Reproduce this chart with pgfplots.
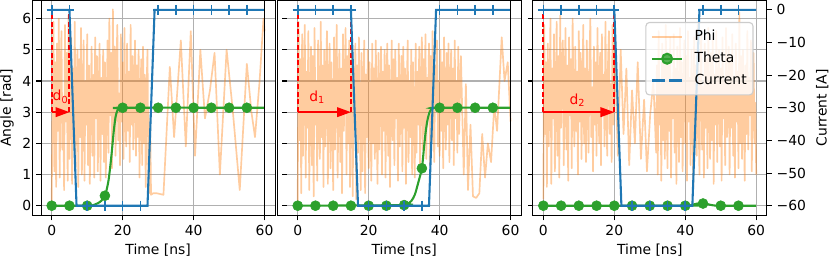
\documentclass[border=0pt]{standalone}
\usepackage{fontspec}
\setmainfont{DejaVu Sans}
\usepackage{pgfplots}
\usepackage{pgfplotstable}
\pgfplotsset{compat=1.18}
\usetikzlibrary{arrows.meta}
\definecolor{cPhi}{HTML}{FF7F0E}
\definecolor{cTheta}{HTML}{2CA02C}
\definecolor{cCur}{HTML}{1F77B4}
\definecolor{cGrid}{HTML}{B0B0B0}
\definecolor{cLeg}{HTML}{CCCCCC}
\tikzset{
  fnt/.style={font=\fontsize{10}{12}\selectfont},
  phistyle/.style={cPhi, draw opacity=0.4, line width=1.2pt, line join=round},
  redd/.style={red, line width=1.4pt, dash pattern=on 3.6pt off 2pt},
  reda/.style={red, line width=1.1pt, -{Triangle[length=10pt,width=7pt]}},
}

\pgfplotstableread{
x y
0 0.0
0.25 3.8
0.5 5.9
0.75 1.1
1 4.6
1.25 0.6
1.5 5.2
1.75 2.4
2 6.0
2.25 0.9
2.5 4.1
2.75 5.6
3 1.8
3.25 3.3
3.5 0.5
3.75 5.8
4 2.7
4.25 4.9
4.5 0.8
4.75 6.1
5 1.5
5.25 3.9
5.5 5.4
5.75 0.7
6 4.4
6.25 2.0
6.5 5.9
6.75 1.2
7 3.6
7.25 5.0
7.5 0.6
7.75 4.7
8 2.2
8.25 5.7
8.5 1.0
8.75 3.1
9 5.3
9.25 0.8
9.5 4.0
9.75 2.6
10 5.5
10.25 1.3
10.5 4.5
10.75 0.7
11 3.4
11.25 5.1
11.5 1.6
11.75 4.2
12 0.9
12.25 5.4
12.5 2.8
12.75 4.8
13 1.1
13.25 3.7
13.5 5.2
13.75 0.8
14 4.1
14.25 2.3
14.5 5.0
14.75 1.4
15 4.6
15.25 0.9
15.5 3.2
15.75 5.3
16 1.7
16.25 6.0
16.5 2.9
16.75 4.9
17 1.2
17.25 6.3
17.5 2.5
17.75 5.1
18 1.6
18.25 4.4
18.5 5.8
18.75 2.1
19 3.6
19.25 1.3
19.5 5.5
19.75 2.7
20 4.6
20.25 1.5
20.5 5.7
20.75 3.0
21 1.9
21.25 5.2
21.5 2.4
21.75 4.3
22 1.4
22.25 5.8
22.5 2.6
22.75 4.8
23 1.8
23.25 3.9
23.5 5.3
23.75 1.6
24 4.5
24.25 2.2
24.5 5.0
24.75 0.9
25 3.5
25.25 4.7
25.5 1.3
25.75 5.1
26 2.0
26.25 4.2
26.5 0.6
26.75 3.8
27 5.0
27.25 1.1
27.5 0.4
27.75 2.8
28 0.35
28.6 0.4
29.6 0.4
31.5 0.35
33.3 4.45
34.5 2.2
36.4 5.3
37.8 1.9
39.2 5.6
40.4 1.6
41.9 5.0
43.2 2.8
44.6 3.7
45.9 4.9
47.4 1.0
49.3 5.0
51.0 3.1
53.0 0.5
55.0 4.55
56.3 3.0
57.3 2.2
58.6 4.0
59.7 6.0
60 5.6
}\phiA

\pgfplotstableread{
x y
0 0.0
0.25 5.9
0.5 2.1
0.75 4.7
1 0.4
1.25 5.5
1.5 1.6
1.75 3.8
2 5.8
2.25 0.9
2.5 4.3
2.75 2.5
3 5.6
3.25 0.5
3.5 3.4
3.75 5.1
4 1.3
4.25 4.8
4.5 0.3
4.75 5.7
5 2.6
5.25 4.0
5.5 0.8
5.75 5.3
6 3.0
6.25 1.5
6.5 5.9
6.75 2.2
7 4.5
7.25 0.6
7.5 5.0
7.75 1.9
8 4.2
8.25 5.6
8.5 0.7
8.75 3.6
9 5.2
9.25 1.2
9.5 4.6
9.75 2.8
10 0.5
10.25 5.4
10.5 1.8
10.75 4.1
11 5.8
11.25 0.9
11.5 3.3
11.75 5.0
12 1.4
12.25 4.4
12.5 0.4
12.75 5.5
13 2.4
13.25 3.9
13.5 5.7
13.75 1.0
14 4.8
14.25 2.0
14.5 5.3
14.75 0.6
15 3.5
15.25 5.1
15.5 0.3
15.75 4.0
16 2.7
16.25 5.2
16.5 0.2
16.75 4.5
17 1.7
17.25 5.4
17.5 2.9
17.75 0.5
18 4.9
18.25 1.1
18.5 3.8
18.75 5.3
19 0.4
19.25 4.2
19.5 2.2
19.75 5.0
20 1.2
20.25 4.6
20.5 3.1
20.75 0.8
21 5.2
21.25 2.0
21.5 4.4
21.75 1.5
22 5.3
22.25 2.7
22.5 0.7
22.75 4.9
23 1.8
23.25 3.6
23.5 5.1
23.75 1.0
24 4.3
24.25 2.4
24.5 5.0
24.75 0.9
25 3.9
25.25 5.2
25.5 1.6
25.75 4.5
26 0.6
26.25 3.2
26.5 5.3
26.75 2.1
27 4.7
27.25 1.3
27.5 5.0
27.75 2.8
28 4.1
28.25 0.8
28.5 5.2
28.75 1.9
29 3.5
29.25 4.8
29.5 1.1
29.75 5.1
30 2.5
30.25 4.4
30.5 0.7
30.75 3.7
31 5.3
31.25 1.4
31.5 4.0
31.75 2.2
32 5.0
32.25 1.0
32.5 4.6
32.75 2.9
33 0.9
33.25 5.2
33.5 1.7
33.75 4.3
34 2.6
34.25 5.1
34.5 1.2
34.75 3.9
35 5.4
35.25 1.8
35.5 4.7
35.75 2.3
36 5.5
36.25 1.5
36.5 4.1
36.75 3.0
37 5.2
37.25 1.3
37.5 4.8
37.75 2.0
38 5.6
38.25 2.7
38.5 1.4
38.75 4.5
39 3.3
39.25 5.3
39.5 1.9
39.75 4.0
40 1.6
40.25 5.0
40.5 2.4
40.75 4.6
41 1.2
41.25 5.4
41.5 3.1
41.75 1.8
42 4.9
42.25 2.6
42.5 5.2
42.75 1.4
43 3.7
43.25 5.0
43.5 2.1
43.75 4.4
44 1.3
44.25 5.3
44.5 2.8
44.75 4.0
45 1.7
45.25 5.1
45.5 2.3
45.75 3.6
46 4.8
46.8 1.0
47.4 3.9
48.0 0.5
48.7 2.6
49.4 0.3
50.3 0.25
51.2 0.4
52.0 2.3
52.8 0.9
53.6 2.0
54.5 1.4
55.4 3.2
56.2 2.4
57.5 5.4
58.3 4.0
59.2 4.6
60 2.7
}\phiB

\pgfplotstableread{
x y
0 0.2
0.25 5.8
0.5 2.3
0.75 4.6
1 0.6
1.25 5.2
1.5 1.9
1.75 3.7
2 6.0
2.25 0.7
2.5 4.4
2.75 2.8
3 5.5
3.25 1.1
3.5 3.2
3.75 5.9
4 1.6
4.25 4.8
4.5 0.9
4.75 6.1
5 2.5
5.25 4.1
5.5 5.3
5.75 1.3
6 3.9
6.25 5.7
6.5 1.8
6.75 4.5
7 0.8
7.25 5.4
7.5 2.9
7.75 4.7
8 1.2
8.25 6.0
8.5 3.3
8.75 1.9
9 5.1
9.25 2.4
9.5 4.3
9.75 1.0
10 5.6
10.25 2.7
10.5 4.9
10.75 1.5
11 3.6
11.25 5.8
11.5 2.0
11.75 4.4
12 1.4
12.25 5.3
12.5 3.0
12.75 1.7
13 4.8
13.25 6.0
13.5 2.2
13.75 3.8
14 1.1
14.25 5.1
14.5 2.6
14.75 4.6
15 1.6
15.25 5.7
15.5 3.4
15.75 2.0
16 4.9
16.25 1.3
16.5 5.5
16.75 2.9
17 4.2
17.25 1.9
17.5 5.9
17.75 3.1
18 1.6
18.25 4.7
18.5 5.6
18.75 2.3
19 3.9
19.25 1.4
19.5 5.8
19.75 2.6
20 5.4
21.0 1.6
21.8 5.0
22.6 2.3
23.4 4.4
24.2 1.3
25.0 3.7
25.8 2.0
26.6 4.6
27.5 1.5
28.4 3.4
29.2 1.1
30.1 2.9
31.0 4.0
31.8 1.7
32 4.5
32.25 1.0
32.5 5.6
32.75 2.6
33 3.9
33.25 0.8
33.5 5.2
33.75 2.1
34 4.7
34.25 1.5
34.5 5.8
34.75 3.0
35 1.2
35.25 4.9
35.5 2.4
35.75 5.4
36 0.9
36.25 4.0
36.5 2.8
36.75 5.5
37 1.7
37.25 4.4
37.5 0.7
37.75 5.1
38 3.3
38.25 1.4
38.5 5.7
38.75 2.2
39 4.6
39.25 1.1
39.5 3.6
39.75 5.3
40 2.0
40.25 4.8
40.5 0.8
40.75 5.6
41 2.7
41.25 4.1
41.5 1.3
41.75 5.0
42 3.5
42.25 0.6
42.5 5.4
42.75 2.4
43 4.5
43.25 1.6
43.5 5.8
43.75 2.9
44 1.0
44.25 4.3
44.5 5.5
44.75 1.8
45 3.8
45.25 0.9
45.5 5.2
45.75 2.5
46 4.7
46.25 1.2
46.5 5.7
46.75 3.1
47 1.5
47.25 4.9
47.5 2.1
47.75 5.3
48 0.7
48.25 4.2
48.5 2.6
48.75 5.6
49 1.4
49.25 3.7
49.5 5.0
49.75 1.9
50 4.4
50.25 0.8
50.5 5.4
50.75 2.8
51 4.0
51.25 1.3
51.5 5.7
51.75 2.2
52 3.4
52.25 5.1
52.5 1.0
52.75 4.6
53 2.5
53.25 5.5
53.5 1.6
53.75 3.9
54 0.9
54.25 5.2
54.5 2.7
54.75 4.3
55 1.2
55.25 6.2
55.5 2.0
55.75 4.8
56 1.5
56.25 5.0
56.5 3.2
56.75 0.8
57 4.5
57.25 2.3
57.5 5.6
57.75 1.8
58 4.1
58.25 2.9
58.5 5.3
58.75 1.1
59 3.6
59.25 4.9
59.5 2.0
59.75 3.3
60 1.0
}\phiC

\pgfplotsset{
  panel/.style={
    scale only axis, width=168.6pt, height=155.16pt, anchor=south west,
    xmin=-3, xmax=63, ymin=-0.314, ymax=6.597,
    xtick={0,20,40,60}, ytick={0,1,2,3,4,5,6},
    grid=major, major grid style={cGrid, line width=0.8pt},
    tick align=outside, major tick length=3.5pt,
    tick style={black, line width=0.8pt},
    xtick pos=bottom, ytick pos=left,
    axis line style={black, line width=0.8pt},
    /pgf/number format/assume math mode=true,
    tick label style={fnt}, label style={fnt},
    xlabel={Time [ns]},
    every axis x label/.style={at={(rel axis cs:0.5,0)}, yshift=-24.8pt, anchor=center},
    clip=true,
  },
  curpanel/.style={
    scale only axis, width=168.6pt, height=155.16pt, anchor=south west,
    xmin=-3, xmax=63, ymin=-63, ymax=3,
  },
}

\begin{document}
\begin{tikzpicture}
\path[use as bounding box] (0,0) rectangle (598.32pt,187.92pt);

% ---------------- left panel ----------------
\begin{axis}[panel, at={(29.56pt,32.76pt)}, ylabel={Angle [rad]},
  every axis y label/.style={at={(rel axis cs:0,0.5)}, xshift=-24.5pt, rotate=90, anchor=center}]
\addplot[phistyle] table {\phiA};
\addplot[cTheta, line width=1.5pt, smooth] coordinates {(0,0) (10,0) (12,0.03) (13,0.08) (14,0.16) (15,0.32) (15.5,0.52) (16,0.8) (16.5,1.25) (17,1.8) (17.5,2.4) (18,2.85) (18.5,3.05) (19,3.12) (20,3.1416) (60,3.1416)};
\addplot[cTheta, only marks, mark=*, mark size=3.6pt] coordinates {(0,0) (5,0) (10,0) (15,0.32) (20,3.1416) (25,3.1416) (30,3.1416) (35,3.1416) (40,3.1416) (45,3.1416) (50,3.1416) (55,3.1416)};
\draw[redd] (axis cs:0,3) -- (axis cs:0,6.283);
\draw[redd] (axis cs:5,3) -- (axis cs:5,6.283);
\draw[reda] (axis cs:0,3) -- (axis cs:5,3);
\node[red, fnt] at (axis cs:2.5,3.49) {d\textsubscript{0}};
\end{axis}
\begin{axis}[curpanel, at={(29.56pt,32.76pt)}, hide axis]
\addplot[cCur, line width=1.5pt] coordinates {(0,0) (5,0) (7,-60) (27,-60) (29,0) (60,0)};
\addplot[cCur, only marks, mark=+, mark size=3.6pt, mark options={line width=1.2pt}] coordinates {(0,0) (5,0) (10,-60) (15,-60) (20,-60) (25,-60) (30,0) (35,0) (40,0) (45,0) (50,0) (55,0)};
\end{axis}

% ---------------- middle panel ----------------
\begin{axis}[panel, at={(206.68pt,32.76pt)}, yticklabels={}, axis line style={draw=none}]
\addplot[phistyle] table {\phiB};
\addplot[cTheta, line width=1.5pt, smooth] coordinates {(0,0) (30,0.02) (31,0.06) (32,0.15) (33,0.35) (34,0.75) (35,1.2) (35.5,1.75) (36,2.3) (36.5,2.7) (37,2.95) (37.5,3.07) (38,3.12) (39,3.1416) (60,3.1416)};
\addplot[cTheta, only marks, mark=*, mark size=3.6pt] coordinates {(0,0) (5,0) (10,0) (15,0) (20,0) (25,0) (30,0.02) (35,1.2) (40,3.1416) (45,3.1416) (50,3.1416) (55,3.1416)};
\draw[redd] (axis cs:0,3) -- (axis cs:0,6.283);
\draw[redd] (axis cs:15,3) -- (axis cs:15,6.283);
\draw[reda] (axis cs:0,3) -- (axis cs:15,3);
\node[red, fnt] at (axis cs:5.5,3.47) {d\textsubscript{1}};
\end{axis}
\begin{axis}[curpanel, at={(206.68pt,32.76pt)}, hide axis]
\addplot[cCur, line width=1.5pt] coordinates {(0,0) (15,0) (17,-60) (37,-60) (39,0) (60,0)};
\addplot[cCur, only marks, mark=+, mark size=3.6pt, mark options={line width=1.2pt}] coordinates {(0,0) (5,0) (10,0) (15,0) (20,-60) (25,-60) (30,-60) (35,-60) (40,0) (45,0) (50,0) (55,0)};
\end{axis}

% ---------------- right panel ----------------
\begin{axis}[panel, at={(383.54pt,32.76pt)}, yticklabels={}]
\addplot[phistyle] table {\phiC};
\addplot[cTheta, line width=1.5pt, smooth] coordinates {(0,0) (41,0) (42,0.03) (43,0.06) (44,0.08) (45,0.08) (46,0.06) (47,0.03) (48,0.01) (50,0) (60,0)};
\addplot[cTheta, only marks, mark=*, mark size=3.6pt] coordinates {(0,0) (5,0) (10,0) (15,0) (20,0) (25,0) (30,0) (35,0) (40,0) (45,0.07) (50,0) (55,0)};
\draw[redd] (axis cs:0,3) -- (axis cs:0,6.283);
\draw[redd] (axis cs:20,3) -- (axis cs:20,6.283);
\draw[reda] (axis cs:0,3) -- (axis cs:20,3);
\node[red, fnt] at (axis cs:9.6,3.38) {d\textsubscript{2}};
\end{axis}
\begin{axis}[curpanel, at={(383.54pt,32.76pt)},
  axis line style={draw=none}, xtick=\empty,
  ytick={-60,-50,-40,-30,-20,-10,0},
  yticklabels={−60,−50,−40,−30,−20,−10,0},
  ytick pos=right, yticklabel pos=right,
  tick align=outside, major tick length=3.5pt,
  tick style={black, line width=0.8pt},
  tick label style={fnt}, label style={fnt},
  ylabel={Current [A]},
  every axis y label/.style={at={(rel axis cs:1,0.5)}, xshift=39.9pt, rotate=90, anchor=center},
  legend cell align=left,
  legend image code/.code={\draw[mark repeat=2,mark phase=2,#1] plot coordinates {(0pt,0pt) (11pt,0pt) (22pt,0pt)};},
  legend style={at={(rel axis cs:0.943,0.898)}, anchor=north east,
    draw=cLeg, line width=0.8pt, rounded corners=2.5pt, fill=white, fill opacity=0.8, text opacity=1,
    fnt, inner xsep=3.5pt, inner ysep=4.5pt, row sep=4pt,
    nodes={inner sep=1pt, text height=7.5pt, text depth=2.2pt},
    /tikz/every odd column/.append style={column sep=7pt}},
]
\addlegendimage{cPhi, draw opacity=0.4, line width=1.5pt}
\addlegendentry{Phi}
\addlegendimage{cTheta, line width=1.5pt, mark=*, mark size=3.6pt}
\addlegendentry{Theta}
\addlegendimage{cCur, line width=1.5pt, dash pattern=on 9pt off 3.5pt}
\addlegendentry{Current}
\addplot[cCur, line width=1.5pt, forget plot] coordinates {(0,0) (20,0) (22,-60) (42,-60) (44,0) (60,0)};
\addplot[cCur, only marks, mark=+, mark size=3.6pt, mark options={line width=1.2pt}, forget plot] coordinates {(0,0) (5,0) (10,0) (15,0) (20,0) (25,-60) (30,-60) (35,-60) (40,-60) (45,0) (50,0) (55,0)};
\end{axis}

% extra frame lines
\draw[black, line width=0.8pt] (23.26pt,32.76pt) rectangle (190.44pt,187.92pt);
\draw[black, line width=0.8pt] (199.94pt,32.76pt) rectangle (375.28pt,187.92pt);
\draw[black, line width=0.8pt] (367.70pt,32.76pt) -- (367.70pt,187.92pt);
\end{tikzpicture}
\end{document}
